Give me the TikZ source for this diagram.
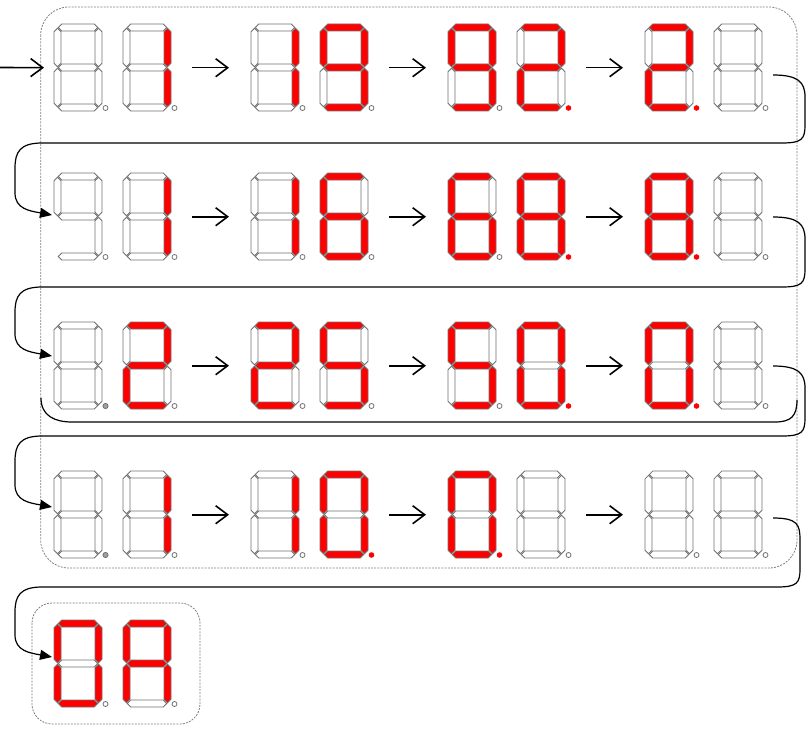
\documentclass[tikz,border=0pt]{standalone}
\usetikzlibrary{arrows.meta,calc}
\definecolor{segred}{HTML}{FF0000}
\definecolor{segline}{HTML}{707070}
\definecolor{dpgrey}{HTML}{A0A0A0}
\definecolor{boxgrey}{HTML}{808080}
\tikzset{
 seg/.style={draw=segline, line width=0.8pt, line join=miter},
 st0/.style={fill=white}, st1/.style={fill=segred},
 pairnode/.style={draw=none, minimum width=121pt, minimum height=87pt, inner sep=0pt, anchor=north west},
 arr/.style={line width=1.6pt, -{Straight Barb[length=12pt,width=18pt]}, shorten <=17pt, shorten >=22pt},
 conn/.style={line width=1.2pt, -{Triangle[length=12pt,width=10pt]}},
 plainline/.style={line width=1.2pt},
 grpbox/.style={draw=boxgrey, dash pattern=on 2pt off 1.2pt, line width=0.8pt},
}
\newcommand\segH[2]{\ifnum#2<2 \filldraw[seg,st#2] (4.3,#1) -- (7.8,#1-3.5) -- (40.2,#1-3.5) -- (43.7,#1) -- (40.2,#1+3.5) -- (7.8,#1+3.5) -- cycle;\fi}
\newcommand\segV[4]{\ifnum#4<2 \filldraw[seg,st#4] (#1,#2+0.8) -- (#1+3.5,#2+4.3) -- (#1+3.5,#3-4.3) -- (#1,#3-0.8) -- (#1-3.5,#3-4.3) -- (#1-3.5,#2+4.3) -- cycle;\fi}
\def\drawsegs#1#2#3#4#5#6#7\relax{%
 \segH{3.5}{#1}\segV{44.5}{3.5}{43.5}{#2}\segV{44.5}{43.5}{83.5}{#3}%
 \segH{83.5}{#4}\segV{3.5}{43.5}{83.5}{#5}\segV{3.5}{3.5}{43.5}{#6}\segH{43.5}{#7}}
\newcommand\drawdp[1]{\ifcase#1 \filldraw[seg,fill=white] (51.5,84) circle (2.5pt);\or \fill[segred] (51.5,84) circle (2.8pt);\or \filldraw[seg,fill=dpgrey] (51.5,84) circle (2.6pt);\fi}
\newcommand\digit[3]{\begin{scope}[shift={(#1)}]\drawsegs#2\relax\drawdp{#3}\end{scope}}
\newcommand\dpair[6]{\digit{#1,#2}{#3}{#4}\digit{#1+69,#2}{#5}{#6}}
\newcommand\rowconn[6]{%
 \coordinate (#1) at (773,#3); \coordinate (#2) at (52,#5);
 \draw[conn] (#1) .. controls +(25,0) and +(0,-15) .. (#6,#3+22) -- (#6,#4-18) .. controls +(0,14) and +(20,0) .. (#6-23,#4) -- (42,#4) .. controls +(-22,0) and +(0,-16) .. (15,#4+25) -- (15,#5-22) .. controls +(0,16) and +(-22,-4) .. (#2);}
\begin{document}
\begin{tikzpicture}[x=1pt,y=-1pt]
\useasboundingbox (0,0) rectangle (810,733);
% group boxes
\draw[grpbox, rounded corners=28pt] (40.7,7) rectangle (797,568);
\draw[grpbox, rounded corners=20pt] (32,603) rectangle (200,724);
% pair nodes
\foreach \r/\y in {1/24,2/173,3/322,4/471}
 \foreach \c/\x in {1/54,2/251,3/448,4/645}
  \node[pairnode] (p\r\c) at (\x,\y) {};
\node[pairnode] (p51) at (54,620) {};
% row 1
\dpair{54}{24}{0000000}{0}{0110000}{0}
\dpair{251}{24}{0110000}{0}{1111011}{0}
\dpair{448}{24}{1111011}{0}{1101101}{1}
\dpair{645}{24}{1101101}{1}{0000000}{0}
% row 2
\dpair{54}{173}{0000200}{0}{0110000}{0}
\dpair{251}{173}{0110000}{0}{1011111}{0}
\dpair{448}{173}{1011111}{0}{1111111}{1}
\dpair{645}{173}{1111111}{1}{0000000}{0}
% row 3
\dpair{54}{322}{0000000}{2}{1101101}{0}
\dpair{251}{322}{1101101}{0}{1011011}{0}
\dpair{448}{322}{1011011}{0}{1111110}{1}
\dpair{645}{322}{1111110}{1}{0000000}{0}
% row 4
\dpair{54}{471}{0000000}{2}{0110000}{0}
\dpair{251}{471}{0110000}{0}{1111110}{1}
\dpair{448}{471}{1111110}{1}{0000000}{0}
\dpair{645}{471}{0000000}{0}{0000000}{0}
% final
\dpair{54}{620}{1111110}{0}{1110111}{0}
% arrows between pairs
\coordinate (in) at (0,67.5);
\draw[arr, shorten <=0pt, shorten >=10pt] (in) -- (p11.west);
\foreach \r in {1,...,4}{
 \draw[arr] (p\r1.east) -- (p\r2.west);
 \draw[arr] (p\r2.east) -- (p\r3.west);
 \draw[arr] (p\r3.east) -- (p\r4.west);
}
% row connectors
\rowconn{s1}{e2}{75}{143}{215}{805}
\rowconn{s2}{e3}{217}{287}{356}{805}
\rowconn{s3}{e4}{366}{436}{507}{805}
\rowconn{s4}{e5}{518}{587}{657}{800}
% extra line under row 3
\draw[plainline] (41,398) .. controls (41,416) and (55,422) .. (72,422) -- (775,422) .. controls (791,422) and (797,416) .. (797,400);
\end{tikzpicture}
\end{document}
